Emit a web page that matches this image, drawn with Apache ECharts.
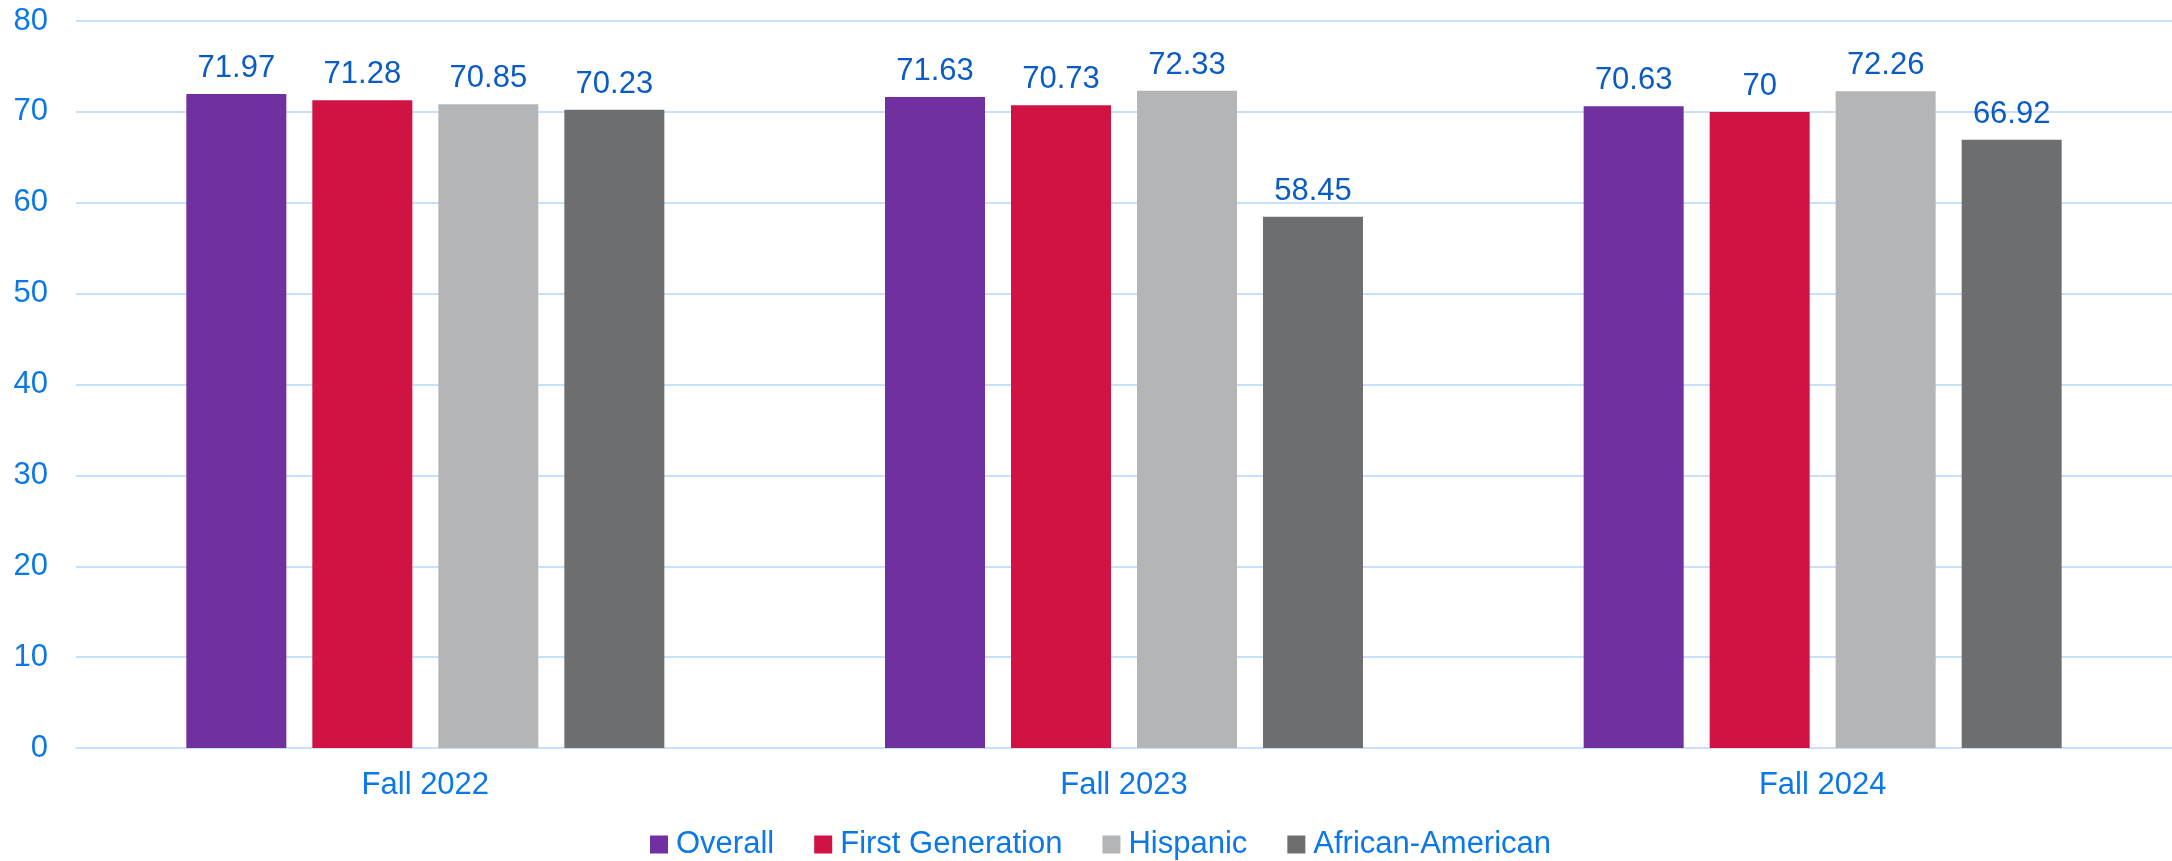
<!DOCTYPE html>
<html>
<head>
<meta charset="utf-8">
<script src="https://cdn.jsdelivr.net/npm/echarts@6/dist/echarts.min.js"></script>
<style>
  html, body { margin: 0; padding: 0; background: #fff; }
  #chart { width: 2172px; height: 861px; }
</style>
</head>
<body>
<div id="chart"></div>
<script>
const categories = ['Fall 2022', 'Fall 2023', 'Fall 2024']
const seriesNames = ['Overall', 'First Generation', 'Hispanic', 'African-American']
const overall = [71.97, 71.63, 70.63]
const firstGeneration = [71.28, 70.73, 70]
const hispanic = [70.85, 72.33, 72.26]
const africanAmerican = [70.23, 58.45, 66.92]
const yTicks = [0, 10, 20, 30, 40, 50, 60, 70, 80]

const seriesData = [overall, firstGeneration, hispanic, africanAmerican]
const colors = ['#7030a0', '#d01342', '#b4b5b7', '#6d6e70']

const font = '"Liberation Sans", Arial, sans-serif'
const axisBlue = '#0b78e6'
const labelBlue = '#0a5cc4'
const gridBlue = '#c9e0fa'

const chart = echarts.init(document.getElementById('chart'))

chart.setOption({
  backgroundColor: '#fff',
  animation: false,
  textStyle: { fontFamily: font },
  grid: { left: 76, right: 0, top: 21, bottom: 113 },
  legend: {
    left: 645,
    top: 824,
    itemWidth: 18,
    itemHeight: 18,
    itemGap: 40,
    icon: 'rect',
    textStyle: { color: axisBlue, fontSize: 31, fontFamily: font, padding: [0, 0, 0, 3] },
    data: seriesNames
  },
  xAxis: {
    type: 'category',
    data: categories,
    axisLine: { show: true, lineStyle: { color: gridBlue, width: 2 } },
    axisTick: { show: false },
    axisLabel: { color: axisBlue, fontSize: 31, fontFamily: font, margin: 22 }
  },
  yAxis: {
    type: 'value',
    min: yTicks[0],
    max: yTicks[yTicks.length - 1],
    interval: 10,
    axisLine: { show: false },
    axisTick: { show: false },
    splitLine: { lineStyle: { color: gridBlue, width: 2 } },
    axisLabel: { color: axisBlue, fontSize: 31, fontFamily: font, margin: 28 }
  },
  series: seriesNames.map((name, i) => ({
    name,
    type: 'bar',
    data: seriesData[i],
    barWidth: 100,
    barGap: '26%',
    itemStyle: { color: colors[i] },
    label: {
      show: true,
      position: 'top',
      distance: 10,
      color: labelBlue,
      fontSize: 31,
      fontFamily: font
    }
  }))
})
</script>
</body>
</html>
